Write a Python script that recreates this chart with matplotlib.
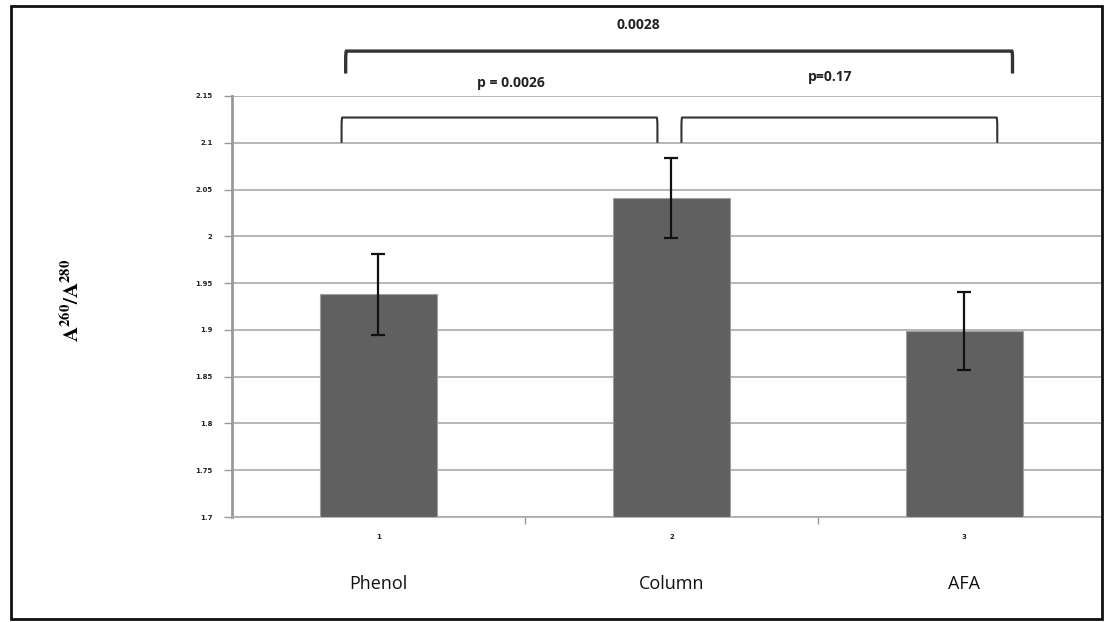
import matplotlib.pyplot as plt
from matplotlib.patches import Rectangle
from matplotlib.path import Path
from matplotlib.patches import PathPatch

categories = ['Phenol', 'Column', 'AFA']
tick_nums = ['1', '2', '3']
means = [1.938, 2.041, 1.899]
errors = [0.043, 0.043, 0.042]
yticks = [1.7, 1.75, 1.8, 1.85, 1.9, 1.95, 2.0, 2.05, 2.1, 2.15]
ytick_labels = ['1.7', '1.75', '1.8', '1.85', '1.9', '1.95', '2', '2.05', '2.1', '2.15']
p_labels = ['p = 0.0026', 'p=0.17', '0.0028']

plt.rcParams['mathtext.fontset'] = 'stix'

fig = plt.figure(figsize=(11.04, 6.22), dpi=100)
ax = fig.add_axes([232 / 1104, 105 / 622, (1101 - 232) / 1104, 421 / 622])

x = list(range(len(categories)))
ax.bar(x, means, width=0.40, color='#606060', edgecolor='#a0a0a0', linewidth=0.8, zorder=3)
ax.errorbar(x, means, yerr=errors, fmt='none', ecolor='#111111', elinewidth=1.6,
            capsize=5, capthick=1.6, zorder=4)

ax.set_ylim(1.7, 2.15)
ax.set_xlim(-0.5, 2.466)
ax.set_yticks(yticks)
ax.set_yticklabels(ytick_labels, fontsize=5, fontweight='bold', color='#222222')
ax.set_xticks(x)
ax.set_xticklabels(tick_nums, fontsize=5, fontweight='bold', color='#222222')
ax.tick_params(axis='x', length=0, pad=12)
ax.tick_params(axis='y', length=6, width=1, color='#999999', pad=8)
ax.set_xticks([0.5, 1.5], minor=True)
ax.tick_params(axis='x', which='minor', length=5, width=1, color='#999999', direction='out')
ax.grid(axis='y', color='#aaaaaa', linewidth=1.2, zorder=0)
for s in ['top', 'right']:
    ax.spines[s].set_visible(False)
ax.spines['left'].set_color('#999999')
ax.spines['left'].set_linewidth(2.0)
ax.spines['bottom'].set_color('#aaaaaa')
ax.spines['bottom'].set_linewidth(1.2)

for i, name in enumerate(categories):
    ax.text(i, 1.628, name, ha='center', va='center', fontsize=13,
            family='Open Sans', color='#111111', clip_on=False)

ax.text(-1.046, 1.932, r'$\mathbf{A^{260}/A^{280}}$', rotation=90, ha='center', va='center',
        fontsize=15, clip_on=False)


def bracket(x0, x1, ytop, ybot, r, lw):
    verts = [(x0, ybot), (x0, ytop - r * 0.5), (x0, ytop), (x0 + r * 0.12, ytop),
             (x1 - r * 0.12, ytop), (x1, ytop), (x1, ytop - r * 0.5), (x1, ybot)]
    codes = [Path.MOVETO, Path.LINETO, Path.CURVE3, Path.CURVE3,
             Path.LINETO, Path.CURVE3, Path.CURVE3, Path.LINETO]
    ax.add_patch(PathPatch(Path(verts, codes), fill=False, lw=lw, color='#333333',
                           clip_on=False, zorder=5))


bracket(-0.126, 0.952, 2.127, 2.1, 0.02, 1.5)
bracket(1.034, 2.112, 2.127, 2.1, 0.02, 1.5)
bracket(-0.112, 2.164, 2.198, 2.174, 0.02, 2.4)

ax.text(0.452, 2.164, p_labels[0], ha='center', va='center', fontsize=10,
        fontweight='bold', family='Open Sans', color='#222222', clip_on=False)
ax.text(1.54, 2.170, p_labels[1], ha='center', va='center', fontsize=10,
        fontweight='bold', family='Open Sans', color='#222222', clip_on=False)
ax.text(0.888, 2.226, p_labels[2], ha='center', va='center', fontsize=10,
        fontweight='bold', family='Open Sans', color='#222222', clip_on=False)

fig.patches.append(Rectangle((11 / 1104, 3 / 622), 1091 / 1104, 613 / 622,
                             transform=fig.transFigure, fill=False, lw=2, edgecolor='#111111'))

fig.savefig('out.png', dpi=100)
